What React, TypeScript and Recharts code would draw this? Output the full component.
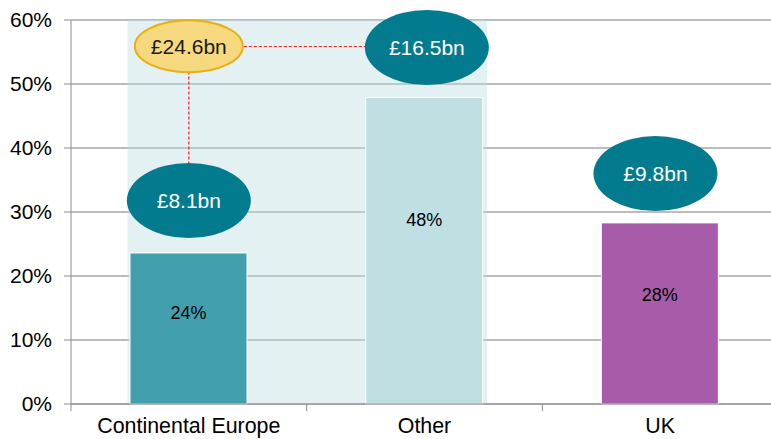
import React from 'react';
import {
  BarChart,
  Bar,
  XAxis,
  YAxis,
  CartesianGrid,
  ReferenceArea,
  ReferenceLine,
  ReferenceDot,
  LabelList,
  Cell,
} from 'recharts';

// Share of total by region
const categories = ['Continental Europe', 'Other', 'UK'];
const shares = [23.6, 47.9, 28.3];
const shareLabels = ['24%', '48%', '28%'];
const yTicks = [0, 10, 20, 30, 40, 50, 60];

// Value bubbles (x in category units, y in %)
const bubbleLabels = ['£24.6bn', '£8.1bn', '£16.5bn', '£9.8bn'];
const bubbleX = [0.5, 0.5, 1.51, 2.48];
const bubbleY = [55.9, 31.8, 55.7, 36];
const bubbleKinds = ['total', 'part', 'part', 'part'];

// dashed connector level and shaded group (Continental Europe + Other)
const connectorY = 55.86;
const shadeX = [0.24, 1.765];

const barColors = ['#429fae', '#c0dfe3', '#a75ba8'];
const FONT = '"Liberation Sans", Arial, sans-serif';

const data = categories.map((name, i) => ({
  name,
  pos: i + 0.5,
  share: shares[i],
  label: shareLabels[i],
}));

const bubbleStyle: Record<string, { rx: number; ry: number; fill: string; stroke: string; text: string }> = {
  total: { rx: 54, ry: 26, fill: '#f6d97f', stroke: '#e8b010', text: '#1a1a1a' },
  part: { rx: 62, ry: 37.5, fill: '#037b8f', stroke: 'none', text: '#ffffff' },
};

const Bubble = (props: any) => {
  const { cx, cy, label, kind } = props;
  const s = bubbleStyle[kind];
  return (
    <g>
      <ellipse cx={cx} cy={cy} rx={s.rx} ry={s.ry} fill={s.fill} stroke={s.stroke} strokeWidth={2} />
      <text
        x={cx}
        y={cy}
        dy={7.5}
        textAnchor="middle"
        fill={s.text}
        fontSize={21}
        fontFamily={FONT}
      >
        {label}
      </text>
    </g>
  );
};

const CategoryTick = (props: any) => {
  const { x, y, payload } = props;
  const half = payload.offset || 0;
  return (
    <g>
      <line x1={x - half} y1={y} x2={x - half} y2={y + 7} stroke="#8c8c8c" strokeWidth={1} />
      <text x={x} y={y} dy={29} textAnchor="middle" fill="#000" fontSize={21.4} fontFamily={FONT}>
        {payload.value}
      </text>
    </g>
  );
};

const ShareLabel = (props: any) => {
  const { x, y, width, height, value } = props;
  return (
    <text
      x={x + width / 2}
      y={y + height * 0.4}
      dy={6}
      textAnchor="middle"
      fill="#000"
      fontSize={18}
      fontFamily={FONT}
    >
      {value}
    </text>
  );
};

export default function App() {
  return (
    <div style={{ position: 'fixed', left: 0, top: 0, width: 771, height: 439, overflow: 'hidden', background: '#fff' }}>
      <BarChart
        width={778}
        height={439}
        data={data}
        margin={{ top: 20, right: 0, bottom: 0, left: 0 }}
      >
        <CartesianGrid vertical={false} stroke="#a6a6a6" strokeWidth={1.5} />
        <XAxis
          dataKey="name"
          axisLine={{ stroke: '#8c8c8c' }}
          tickLine={false}
          tickSize={0}
          tickMargin={0}
          height={35}
          interval={0}
          tick={<CategoryTick />}
        />
        <XAxis xAxisId="pos" dataKey="pos" type="number" domain={[0, 3]} hide />
        <YAxis
          domain={[0, 60]}
          ticks={yTicks}
          width={71}
          tickSize={7}
          tickMargin={12}
          axisLine={{ stroke: '#8c8c8c' }}
          tickLine={{ stroke: '#8c8c8c' }}
          tickFormatter={(v: number) => `${v}%`}
          tick={{ fill: '#000', fontSize: 21, fontFamily: FONT }}
        />
        <ReferenceArea
          xAxisId="pos"
          x1={shadeX[0]}
          x2={shadeX[1]}
          y1={0}
          y2={60}
          fill="#bcdde2"
          fillOpacity={0.42}
          stroke="none"
        />
        <Bar dataKey="share" barSize={117} stroke="#ffffff" strokeWidth={1} isAnimationActive={false}>
          {data.map((d, i) => (
            <Cell key={d.name} fill={barColors[i]} />
          ))}
          <LabelList dataKey="label" content={<ShareLabel />} />
        </Bar>
        <ReferenceLine
          xAxisId="pos"
          segment={[{ x: bubbleX[0], y: connectorY }, { x: bubbleX[2], y: connectorY }]}
          stroke="#ff1a1a"
          strokeWidth={1.2}
          strokeDasharray="3 2"
        />
        <ReferenceLine
          xAxisId="pos"
          segment={[{ x: bubbleX[0], y: connectorY }, { x: bubbleX[1], y: bubbleY[1] }]}
          stroke="#ff1a1a"
          strokeWidth={1.2}
          strokeDasharray="3 2"
        />
        {bubbleLabels.map((label, i) => (
          <ReferenceDot
            key={label}
            xAxisId="pos"
            x={bubbleX[i]}
            y={bubbleY[i]}
            r={1}
            shape={(p: any) => <Bubble {...p} label={label} kind={bubbleKinds[i]} />}
          />
        ))}
      </BarChart>
    </div>
  );
}
